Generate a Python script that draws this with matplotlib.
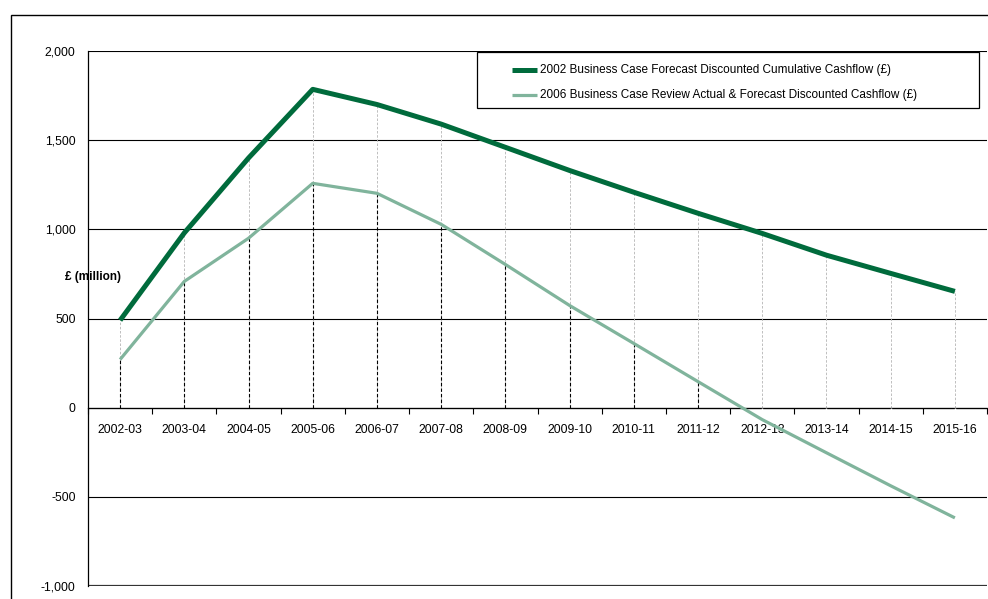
import matplotlib
matplotlib.use("Agg")
import matplotlib.pyplot as plt
from matplotlib.patches import Rectangle
from matplotlib.lines import Line2D

years = ['2002-03', '2003-04', '2004-05', '2005-06', '2006-07', '2007-08', '2008-09',
         '2009-10', '2010-11', '2011-12', '2012-13', '2013-14', '2014-15', '2015-16']
forecast_2002 = [490, 980, 1400, 1785, 1700, 1590, 1460, 1330, 1208, 1090, 977, 855, 753, 652]
review_2006 = [270, 708, 950, 1258, 1202, 1028, 803, 573, 360, 146, -67, -253, -438, -618]

label_2002 = '2002 Business Case Forecast Discounted Cumulative Cashflow (£)'
label_2006 = '2006 Business Case Review Actual & Forecast Discounted Cashflow (£)'
yticks = [-1000, -500, 0, 500, 1000, 1500, 2000]

dark = '#006b3c'
light = '#80b49c'

W, H = 988, 599


def fx(px):
    return px / W


def fy(py):
    return 1 - py / H


plt.rcParams['font.family'] = ['Liberation Sans', 'DejaVu Sans']

fig = plt.figure(figsize=(W / 100, H / 100), dpi=100)
# outer chart frame (cut off at the right and bottom)
fig.patches.append(Rectangle((fx(11), -0.05), 1.2, fy(15) + 0.05,
                             transform=fig.transFigure, fill=False,
                             edgecolor='black', linewidth=1.0))

ax = fig.add_axes([fx(88), fy(586), fx(987) - fx(88), fy(51) - fy(586)])
x = list(range(len(years)))

# drop lines
for i in x:
    ax.plot([i, i], [0, forecast_2002[i]], color='#b4b4b4', linestyle=(0, (3, 2)),
            linewidth=0.6, zorder=2)
    if review_2006[i] > 0:
        ax.plot([i, i], [0, review_2006[i]], color='black', linestyle=(0, (3, 2)),
                linewidth=0.8, zorder=2)
    else:
        ax.plot([i, i], [0, review_2006[i]], color='white', linestyle=(0, (8, 3)),
                linewidth=1.0, zorder=3)

ax.plot(x, forecast_2002, color=dark, linewidth=3.6, zorder=4, solid_capstyle='butt')
ax.plot(x, review_2006, color=light, linewidth=2.3, zorder=4, solid_capstyle='butt')

ax.set_xlim(-0.5, len(years) - 0.5)
ax.set_ylim(-1000, 2000)
ax.set_yticks(yticks)
ax.set_yticklabels(['{:,}'.format(v) for v in yticks])
ax.yaxis.grid(True, color='black', linewidth=0.8)
ax.set_axisbelow(True)
ax.xaxis.set_zorder(3.5)  # labels above the white drop lines, below the series
ax.tick_params(axis='y', length=0, labelsize=8.8, pad=9)

for s in ['top', 'right']:
    ax.spines[s].set_visible(False)
ax.spines['left'].set_linewidth(0.9)
ax.spines['bottom'].set_position(('data', 0))
ax.spines['bottom'].set_linewidth(0.9)
ax.axhline(-1000, color='#333333', linewidth=1.6, zorder=1)

ax.set_xticks(x)
ax.set_xticklabels(years)
ax.set_xticks([i + 0.5 for i in range(-1, len(years))], minor=True)
ax.tick_params(axis='x', which='major', length=0, labelsize=8.8, pad=12)
ax.tick_params(axis='x', which='minor', length=4, direction='out', width=0.8)

fig.text(fx(65), fy(277), '£ (million)', fontsize=8.5, fontweight='bold',
         ha='left', va='center', zorder=10)

# legend box, drawn like the spreadsheet one
fig.patches.append(Rectangle((fx(477), fy(108)), fx(979) - fx(477), fy(52) - fy(108),
                             transform=fig.transFigure, facecolor='white',
                             edgecolor='black', linewidth=0.9, zorder=6))
for yy, col, lw, lab in [(70, dark, 3.6, label_2002), (95, light, 2.3, label_2006)]:
    fig.lines.append(Line2D([fx(512), fx(537)], [fy(yy), fy(yy)], transform=fig.transFigure,
                            color=col, linewidth=lw, solid_capstyle='butt', zorder=7))
    fig.text(fx(540), fy(yy), lab, fontsize=8.5, ha='left', va='center', zorder=7)

fig.savefig('out.png', dpi=100)
